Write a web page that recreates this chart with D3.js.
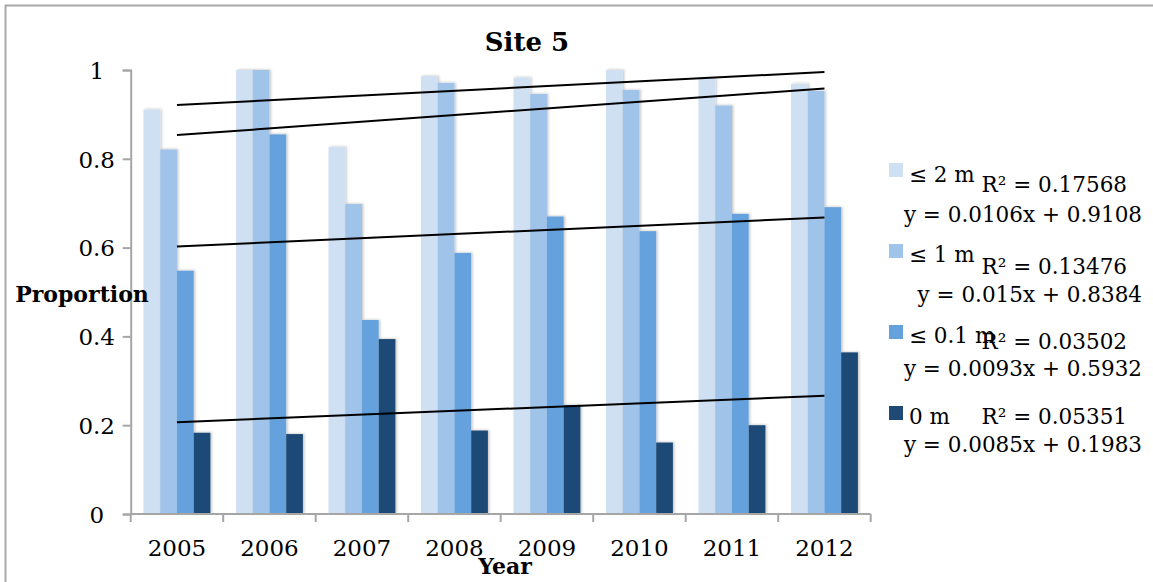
<!DOCTYPE html>
<html>
<head>
<meta charset="utf-8">
<script src="https://cdn.jsdelivr.net/npm/d3@7"></script>
<style>
  html, body { margin: 0; padding: 0; background: #fff; }
  svg { display: block; }
  text { font-family: "DejaVu Serif", serif; fill: #000; }
</style>
</head>
<body>
<svg id="chart" width="1153" height="582"></svg>
<script>
// Site 5: proportion per depth class, by year
const years = ["2005", "2006", "2007", "2008", "2009", "2010", "2011", "2012"];
const seriesNames = ["≤ 2 m", "≤ 1 m", "≤ 0.1 m", "0 m"];
const le2m  = [0.911, 1.000, 0.827, 0.986, 0.983, 1.000, 0.981, 0.969];
const le1m  = [0.821, 1.000, 0.698, 0.971, 0.946, 0.955, 0.920, 0.953];
const le01m = [0.548, 0.855, 0.437, 0.588, 0.670, 0.637, 0.676, 0.691];
const zero  = [0.183, 0.180, 0.394, 0.188, 0.245, 0.161, 0.200, 0.364];
// Linear trends (x = year index 1..8)
const trendSlopes = [0.0106, 0.015, 0.0093, 0.0085];
const trendIntercepts = [0.9108, 0.8384, 0.5932, 0.1983];
const trendR2 = ["0.17568", "0.13476", "0.03502", "0.05351"];
const trendEq = ["y = 0.0106x + 0.9108", "y = 0.015x + 0.8384", "y = 0.0093x + 0.5932", "y = 0.0085x + 0.1983"];
const yTicks = [0, 0.2, 0.4, 0.6, 0.8, 1];
const colors = ["#cfe0f2", "#a0c3e9", "#65a2dd", "#1f4a76"];

const values = [le2m, le1m, le01m, zero];

const svg = d3.select("#chart");

// outer frame (top and left edges)
svg.append("line").attr("x1", 5).attr("x2", 1153).attr("y1", 5.5).attr("y2", 5.5)
  .attr("stroke", "#a8a8a8").attr("stroke-width", 2);
svg.append("line").attr("x1", 5.5).attr("x2", 5.5).attr("y1", 5).attr("y2", 582)
  .attr("stroke", "#a8a8a8").attr("stroke-width", 2);

// soft shadow under bars
const defs = svg.append("defs");
const f = defs.append("filter").attr("id", "barShadow")
  .attr("x", "-30%").attr("y", "-5%").attr("width", "160%").attr("height", "110%");
f.append("feDropShadow").attr("dx", 1.5).attr("dy", -0.5).attr("stdDeviation", 1.2)
  .attr("flood-color", "#000").attr("flood-opacity", 0.22);

const x = d3.scaleBand().domain(years).range([130.7, 870.7]).padding(0);
const x1 = d3.scaleBand().domain(seriesNames)
  .range([12.8, x.bandwidth() - 12.8]).padding(0);
const y = d3.scaleLinear().domain([0, 1]).range([514, 70]);

// bars
const groups = svg.append("g").selectAll("g").data(years).join("g")
  .attr("transform", d => `translate(${x(d)},0)`);
groups.selectAll("rect")
  .data((d, i) => seriesNames.map((s, k) => ({ s, k, v: values[k][i] })))
  .join("rect")
  .attr("x", d => x1(d.s))
  .attr("width", x1.bandwidth())
  .attr("y", d => y(d.v))
  .attr("height", d => y(0) - y(d.v))
  .attr("fill", d => colors[d.k])
  .attr("filter", "url(#barShadow)");

// y axis
const yAxis = svg.append("g").attr("transform", "translate(130.7,0)")
  .call(d3.axisLeft(y).tickValues(yTicks).tickSize(8).tickPadding(0)
    .tickFormat(d => d3.format("")(+d.toFixed(1))));
yAxis.select(".domain").attr("stroke", "#a6a6a6").attr("stroke-width", 2);
yAxis.selectAll(".tick line").attr("stroke", "#a6a6a6").attr("stroke-width", 2);
yAxis.selectAll(".tick text")
  .attr("x", -34).attr("dy", "0.36em").attr("text-anchor", "middle")
  .style("font-family", "DejaVu Serif").style("font-size", "23px").attr("fill", "#000");

// x axis: line, boundary ticks, centered labels
const xAxis = svg.append("g").attr("transform", "translate(0,514)")
  .call(d3.axisBottom(x).tickSize(0).tickPadding(0));
xAxis.select(".domain").remove();
xAxis.selectAll(".tick text").attr("y", 42).attr("dy", 0)
  .style("font-family", "DejaVu Serif").style("font-size", "23px").attr("fill", "#000");
xAxis.append("line").attr("x1", x.range()[0]).attr("x2", x.range()[1])
  .attr("stroke", "#a6a6a6").attr("stroke-width", 2);
const bounds = years.map(d => x(d)).concat([x.range()[1]]);
xAxis.selectAll("line.bound").data(bounds).join("line").attr("class", "bound")
  .attr("x1", d => d).attr("x2", d => d).attr("y1", 0).attr("y2", 8)
  .attr("stroke", "#a6a6a6").attr("stroke-width", 2);

// trend lines
const xi = d3.scaleLinear().domain([1, years.length])
  .range([x(years[0]) + x.bandwidth() / 2, x(years[years.length - 1]) + x.bandwidth() / 2]);
svg.append("g").selectAll("line").data(trendSlopes).join("line")
  .attr("x1", xi(1)).attr("x2", xi(years.length))
  .attr("y1", (m, k) => y(m * 1 + trendIntercepts[k]))
  .attr("y2", (m, k) => y(m * years.length + trendIntercepts[k]))
  .attr("stroke", "#000").attr("stroke-width", 2);

// titles
svg.append("text").attr("x", 527).attr("y", 51).attr("text-anchor", "middle")
  .style("font-size", "26px").style("font-weight", "bold").text("Site 5");
svg.append("text").attr("x", 82).attr("y", 302).attr("text-anchor", "middle")
  .style("font-size", "22px").style("font-weight", "bold").text("Proportion");
svg.append("text").attr("x", 505).attr("y", 574).attr("text-anchor", "middle")
  .style("font-size", "22px").style("font-weight", "bold").text("Year");

// legend with trend statistics
const rowTop = [163, 244, 325, 406];
const labelBase = [181.5, 262, 343, 423.5];
const r2Base = [191.5, 274, 349, 423.5];
const eqBase = [221.5, 301.5, 376, 451.5];
const leg = svg.append("g");
seriesNames.forEach((s, k) => {
  leg.append("rect").attr("x", 889).attr("y", rowTop[k]).attr("width", 14).attr("height", 14)
    .attr("fill", colors[k]);
  leg.append("text").attr("x", 909).attr("y", labelBase[k])
    .style("font-size", "21.5px").text(s);
  leg.append("text").attr("x", 1127).attr("y", r2Base[k]).attr("text-anchor", "end")
    .style("font-size", "21.5px").text("R² = " + trendR2[k]);
  leg.append("text").attr("x", 1142).attr("y", eqBase[k]).attr("text-anchor", "end")
    .style("font-size", "21.5px").text(trendEq[k]);
});
</script>
</body>
</html>
